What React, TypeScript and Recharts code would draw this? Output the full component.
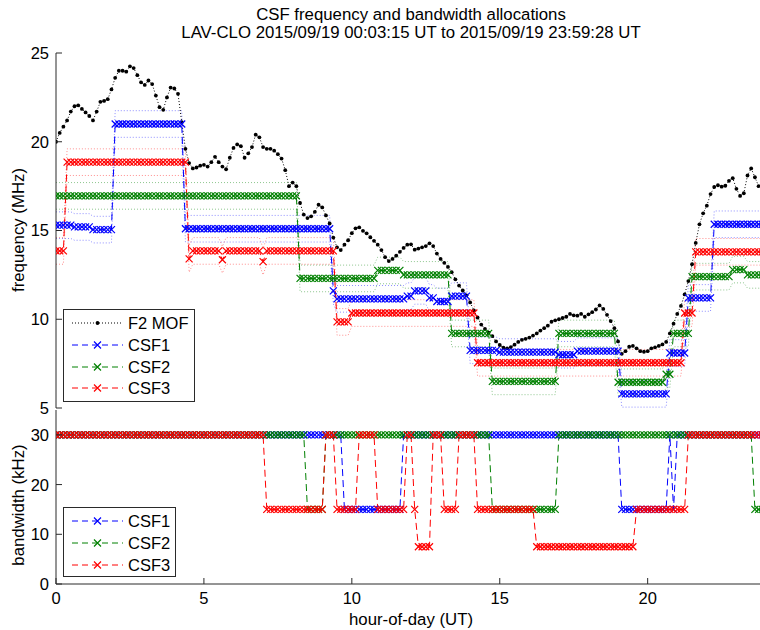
import React from 'react';
import { LineChart, Line, XAxis, YAxis } from 'recharts';

// Sounder cadence: one sample every 7.5 minutes, 00:00 to 24:00 UT
const SAMPLE_STEP_H = 0.125;

// F2-layer maximum observable frequency (MHz), one value per sample
const MOF_MHZ = [
  20.0, 20.5, 20.85, 21.2, 21.7, 22.0, 22.05, 21.85,
  21.65, 21.45, 21.2, 21.7, 22.25, 22.3, 22.4, 22.95,
  23.6, 24.0, 24.0, 23.95, 24.25, 24.15, 23.75, 23.35,
  23.2, 23.45, 23.25, 22.6, 21.95, 21.8, 22.5, 23.05,
  23.0, 22.7, 21.1, 19.6, 18.8, 18.5, 18.55, 18.65,
  18.7, 18.6, 18.85, 19.15, 18.85, 18.6, 18.45, 19.1,
  19.65, 19.85, 19.75, 19.1, 19.35, 19.7, 20.4, 20.25,
  19.7, 19.6, 19.6, 19.5, 19.3, 19.05, 18.4, 17.5,
  17.7, 17.5, 16.55, 15.9, 15.7, 15.8, 16.05, 16.45,
  16.3, 15.85, 15.4, 14.6, 14.05, 13.9, 14.2, 14.45,
  14.85, 15.12, 15.18, 14.98, 14.84, 14.62, 14.42, 14.2,
  13.9, 13.5, 13.28, 13.4, 13.58, 13.8, 14.02, 14.2,
  14.22, 13.92, 13.98, 14.05, 14.12, 14.28, 14.12, 13.7,
  13.4, 13.18, 12.95, 12.65, 12.25, 11.9, 11.62, 11.35,
  10.95, 10.5, 10.1, 9.7, 9.45, 9.25, 9.05, 8.75,
  8.55, 8.4, 8.36, 8.43, 8.57, 8.72, 8.84, 8.9,
  8.97, 9.08, 9.2, 9.36, 9.5, 9.64, 9.86, 9.94,
  10.0, 10.07, 10.14, 10.3, 10.22, 10.2, 10.3, 10.14,
  10.28, 10.4, 10.55, 10.78, 10.58, 10.25, 9.9, 9.5,
  8.75, 8.05, 8.2, 8.45, 8.5, 8.36, 8.2, 8.17,
  8.2, 8.36, 8.42, 8.5, 8.58, 8.72, 9.2, 9.75,
  10.3, 10.75, 11.4, 12.15, 13.1, 14.3, 15.35, 15.97,
  16.4, 17.05, 17.45, 17.55, 17.47, 17.52, 17.8, 17.95,
  17.35, 16.95, 17.1, 18.1, 18.5, 18.0, 17.5, 17.4,
  17.3,
];

// Channel allocations as [start hour, value]; a value holds until the next start
type Step = [number, number];

const CSF1_FREQ: Step[] = [
  [0, 15.3], [0.625, 15.2], [1.25, 15.05], [2.0, 21.0], [4.375, 15.1],
  [9.375, 11.6], [9.5, 11.15], [11.875, 11.3], [12.125, 11.6], [12.625, 11.2],
  [12.875, 11.0], [13.375, 11.3], [14.0, 8.25], [15.0, 8.15], [17.0, 8.0],
  [17.625, 8.2], [19.125, 5.8], [20.75, 8.1], [21.375, 11.2], [22.25, 15.35],
];
const CSF2_FREQ: Step[] = [
  [0, 16.95], [8.25, 12.3], [10.875, 12.75], [11.75, 12.5], [13.375, 9.2],
  [14.75, 6.5], [17.0, 9.2], [19.0, 6.45], [20.625, 6.9], [20.875, 9.2],
  [21.5, 12.4], [22.875, 12.8], [23.375, 12.5],
];
const CSF3_FREQ: Step[] = [
  [0, 13.85], [0.375, 18.85], [4.5, 13.4], [4.625, 13.85], [5.625, 13.35],
  [5.75, 13.85], [7.0, 13.25], [7.125, 13.85], [9.5, 9.85], [10.0, 10.35],
  [14.25, 7.55], [21.25, 10.35], [21.625, 13.8],
];

// Half width of the search band drawn around each channel (MHz)
const BAND_HALF_WIDTH_MHZ = 0.75;

const CSF1_BW: Step[] = [
  [0, 30], [9.75, 15], [11.75, 30], [19.125, 15], [20.75, 30], [20.875, 15], [21.0, 30],
];
const CSF2_BW: Step[] = [
  [0, 30], [8.5, 15], [9.125, 30], [14.75, 15], [17.0, 30], [23.625, 15],
];
const CSF3_BW: Step[] = [
  [0, 30], [7.125, 15], [9.125, 30], [9.5, 15], [10.25, 30], [10.875, 15],
  [11.875, 30], [12.125, 15], [12.25, 7.5], [12.75, 30], [13.125, 15],
  [13.625, 30], [14.25, 15], [16.25, 7.5], [19.625, 15], [21.375, 30],
];

const HOUR_TICKS = [0, 5, 10, 15, 20];
const FREQ_TICKS = [5, 10, 15, 20, 25];
const BW_TICKS = [0, 10, 20, 30];

const BLUE = '#0000ff';
const GREEN = '#008000';
const RED = '#ff0000';
const AXIS = '#2a2a2a';
const FONT = '"Liberation Sans", Arial, Helvetica, sans-serif';
const TICK_FONT_SIZE = 16.5;
const LABEL_FONT_SIZE = 16.8;

function stepValue(steps: Step[], t: number): number {
  let v = steps[0][1];
  for (const [start, val] of steps) {
    if (t >= start - 1e-9) v = val;
  }
  return v;
}

const rows = MOF_MHZ.map((mof, i) => {
  const t = i * SAMPLE_STEP_H;
  const f1 = stepValue(CSF1_FREQ, t);
  const f2 = stepValue(CSF2_FREQ, t);
  const f3 = stepValue(CSF3_FREQ, t);
  return {
    t,
    mof,
    f1, f2, f3,
    f1hi: f1 + BAND_HALF_WIDTH_MHZ, f1lo: f1 - BAND_HALF_WIDTH_MHZ,
    f2hi: f2 + BAND_HALF_WIDTH_MHZ, f2lo: f2 - BAND_HALF_WIDTH_MHZ,
    f3hi: f3 + BAND_HALF_WIDTH_MHZ, f3lo: f3 - BAND_HALF_WIDTH_MHZ,
    b1: stepValue(CSF1_BW, t),
    b2: stepValue(CSF2_BW, t),
    b3: stepValue(CSF3_BW, t),
  };
});

const MARK = 3.5;

const crossDot = (color: string) => (props: any) => {
  const { cx, cy, index } = props;
  if (cx == null || cy == null) return <g key={`n${index}`} />;
  const s = MARK;
  return (
    <path
      key={`x${index}`}
      d={`M${cx - s},${cy - s}L${cx + s},${cy + s}M${cx - s},${cy + s}L${cx + s},${cy - s}`}
      stroke={color}
      strokeWidth={1.2}
      fill="none"
    />
  );
};

const pointDot = (props: any) => {
  const { cx, cy, index } = props;
  if (cx == null || cy == null) return <g key={`n${index}`} />;
  return <circle key={`p${index}`} cx={cx} cy={cy} r={1.9} fill="#000" />;
};

const LeftTick = (props: any) => {
  const { x, y, payload } = props;
  return (
    <g>
      <line x1={x} x2={x + 6} y1={y} y2={y} stroke={AXIS} />
      <text x={x - 7} y={y} dy="0.36em" textAnchor="end" fontSize={TICK_FONT_SIZE} fontFamily={FONT} fill="#000">
        {payload.value}
      </text>
    </g>
  );
};

const BottomTick = (withLabel: boolean) => (props: any) => {
  const { x, y, payload } = props;
  return (
    <g>
      <line x1={x} x2={x} y1={y} y2={y - 6} stroke={AXIS} />
      {withLabel && (
        <text x={x} y={y + 20} textAnchor="middle" fontSize={TICK_FONT_SIZE} fontFamily={FONT} fill="#000">
          {payload.value}
        </text>
      )}
    </g>
  );
};

const TopTick = (props: any) => {
  const { x, y } = props;
  return <line x1={x} x2={x} y1={y} y2={y + 6} stroke={AXIS} />;
};

const DASH = '7 4';
const DOTS = '1 2';

function bandLine(key: string, color: string) {
  return (
    <Line
      key={key}
      dataKey={key}
      type="linear"
      stroke={color}
      strokeOpacity={0.45}
      strokeWidth={1}
      strokeDasharray={DOTS}
      dot={false}
      activeDot={false}
      isAnimationActive={false}
    />
  );
}

function csfLine(key: string, color: string) {
  return (
    <Line
      key={key}
      dataKey={key}
      type="linear"
      stroke={color}
      strokeWidth={1}
      strokeDasharray={DASH}
      dot={crossDot(color)}
      activeDot={false}
      isAnimationActive={false}
    />
  );
}

const axisCommon = {
  type: 'number' as const,
  dataKey: 't',
  domain: [0, 24],
  ticks: HOUR_TICKS,
  interval: 0 as const,
  allowDataOverflow: true,
  tickLine: false,
  tickSize: 0,
  tickMargin: 0,
  axisLine: { stroke: AXIS },
};

function LegendEntry({ y, color, label, kind }: { y: number; color: string; label: string; kind: 'dot' | 'cross' }) {
  const x0 = 72;
  const x1 = 123;
  const mx = 97.5;
  return (
    <g>
      <line x1={x0} x2={x1} y1={y} y2={y} stroke={color} strokeWidth={1} strokeDasharray={kind === 'dot' ? DOTS : '6 4'} />
      {kind === 'dot' ? (
        <circle cx={mx} cy={y} r={1.9} fill={color} />
      ) : (
        <path d={`M${mx - 3.5},${y - 3.5}L${mx + 3.5},${y + 3.5}M${mx - 3.5},${y + 3.5}L${mx + 3.5},${y - 3.5}`} stroke={color} strokeWidth={1.2} />
      )}
      <text x={128} y={y} dy="0.36em" fontSize={TICK_FONT_SIZE} fontFamily={FONT} fill="#000">
        {label}
      </text>
    </g>
  );
}

export default function App() {
  return (
    <div
      style={{
        position: 'absolute',
        left: 0,
        top: 0,
        width: 760,
        height: 630,
        overflow: 'hidden',
        background: '#fff',
      }}
    >
      {/* frequency panel */}
      <div style={{ position: 'absolute', left: 0, top: 0 }}>
        <LineChart width={780} height={420} data={rows} margin={{ top: 53, right: 14, bottom: 12, left: 0 }}>
          <XAxis {...axisCommon} xAxisId={0} orientation="bottom" height={0} tick={BottomTick(false)} />
          <XAxis {...axisCommon} xAxisId="top" orientation="top" height={0} tick={TopTick} />
          <YAxis
            type="number"
            domain={[5, 25]}
            ticks={FREQ_TICKS}
            interval={0}
            allowDataOverflow
            width={56}
            tickLine={false}
            tickSize={0}
            tickMargin={0}
            axisLine={{ stroke: AXIS }}
            tick={LeftTick}
          />
          <Line
            dataKey="mof"
            type="linear"
            stroke="#000"
            strokeWidth={1}
            strokeDasharray={DOTS}
            dot={pointDot}
            activeDot={false}
            isAnimationActive={false}
          />
          {bandLine('f1hi', BLUE)}
          {bandLine('f1lo', BLUE)}
          {bandLine('f2hi', GREEN)}
          {bandLine('f2lo', GREEN)}
          {bandLine('f3hi', RED)}
          {bandLine('f3lo', RED)}
          {csfLine('f1', BLUE)}
          {csfLine('f2', GREEN)}
          {csfLine('f3', RED)}
        </LineChart>
      </div>

      {/* bandwidth panel */}
      <div style={{ position: 'absolute', left: 0, top: 400 }}>
        <LineChart width={780} height={230} data={rows} margin={{ top: 10, right: 14, bottom: 0, left: 0 }}>
          <XAxis {...axisCommon} xAxisId={0} orientation="bottom" height={46} tick={BottomTick(true)} />
          <XAxis {...axisCommon} xAxisId="top" orientation="top" height={0} tick={TopTick} />
          <YAxis
            type="number"
            domain={[0, 35]}
            ticks={BW_TICKS}
            interval={0}
            allowDataOverflow
            width={56}
            tickLine={false}
            tickSize={0}
            tickMargin={0}
            axisLine={{ stroke: AXIS }}
            tick={LeftTick}
          />
          {csfLine('b1', BLUE)}
          {csfLine('b2', GREEN)}
          {csfLine('b3', RED)}
        </LineChart>
      </div>

      {/* titles, axis labels and legends */}
      <svg width={760} height={630} style={{ position: 'absolute', left: 0, top: 0, pointerEvents: 'none' }}>
        <g fontFamily={FONT} fontSize={LABEL_FONT_SIZE} fill="#000" textAnchor="middle">
          <text x={411} y={20}>CSF frequency and bandwidth allocations</text>
          <text x={411} y={38}>LAV-CLO 2015/09/19 00:03:15 UT to 2015/09/19 23:59:28 UT</text>
          <text x={411} y={625}>hour-of-day (UT)</text>
          <text x={18} y={230} dy="0.36em" transform="rotate(-90 18 230)">frequency (MHz)</text>
          <text x={18} y={505} dy="0.36em" transform="rotate(-90 18 505)">bandwidth (kHz)</text>
        </g>

        <rect x={63.5} y={309.5} width={131} height={92} fill="#fff" stroke={AXIS} strokeWidth={1} />
        <LegendEntry y={323} color="#000" label="F2 MOF" kind="dot" />
        <LegendEntry y={345} color={BLUE} label="CSF1" kind="cross" />
        <LegendEntry y={367} color={GREEN} label="CSF2" kind="cross" />
        <LegendEntry y={388} color={RED} label="CSF3" kind="cross" />

        <rect x={63.5} y={507.5} width={112} height={69} fill="#fff" stroke={AXIS} strokeWidth={1} />
        <LegendEntry y={521} color={BLUE} label="CSF1" kind="cross" />
        <LegendEntry y={543} color={GREEN} label="CSF2" kind="cross" />
        <LegendEntry y={565} color={RED} label="CSF3" kind="cross" />
      </svg>
    </div>
  );
}
